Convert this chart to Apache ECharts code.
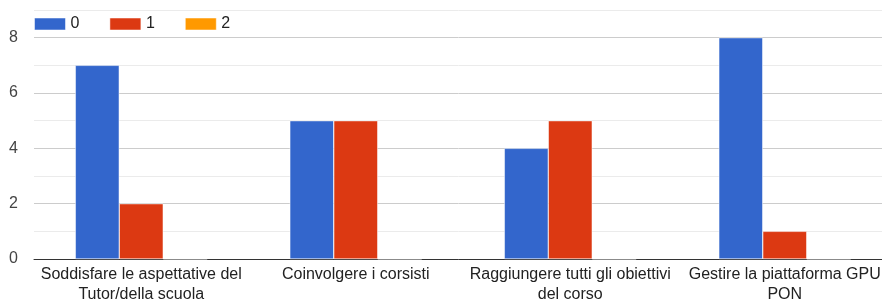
<!DOCTYPE html>
<html>
<head>
<meta charset="utf-8">
<script src="https://cdn.jsdelivr.net/npm/echarts@6/dist/echarts.min.js"></script>
<style>
  html, body { margin: 0; padding: 0; background: #fff; }
  #main { width: 882px; height: 303px; }
</style>
</head>
<body>
<div id="main"></div>
<script>
// categorie e valori
const categories = [
  'Soddisfare le aspettative del\nTutor/della scuola',
  'Coinvolgere i corsisti',
  'Raggiungere tutti gli obiettivi\ndel corso',
  'Gestire la piattaforma GPU\nPON'
]
const seriesNames = ['0', '1', '2']
const values0 = [7, 5, 4, 8]
const values1 = [2, 5, 5, 1]
const values2 = [0, 0, 0, 0]
const colors = ['#3366cc', '#dc3912', '#ff9900']

const myChart = echarts.init(document.getElementById('main'))

const allValues = [values0, values1, values2]

const option = {
  animation: false,
  textStyle: { fontFamily: '"Liberation Sans", Arial, sans-serif' },
  color: colors,
  legend: {
    left: 29,
    top: 11,
    itemWidth: 31,
    itemHeight: 12,
    itemGap: 30,
    itemStyle: { borderColor: 'rgba(255,255,255,0.5)', borderWidth: 1 },
    icon: 'rect',
    textStyle: { fontSize: 16, color: '#222' },
    data: seriesNames
  },
  // il grafico originale esce un po' oltre il bordo destro
  grid: { left: 34, width: 858, top: 10, bottom: 44, outerBoundsMode: 'none' },
  xAxis: {
    type: 'category',
    data: categories,
    axisTick: { show: false },
    axisLine: { lineStyle: { color: '#333', width: 1 } },
    axisLabel: { fontSize: 16, color: '#222', lineHeight: 20, margin: 6, interval: 0 }
  },
  yAxis: {
    type: 'value',
    min: 0,
    max: 9,
    interval: 1,
    axisLabel: {
      fontSize: 16,
      color: '#444',
      margin: 16,
      formatter: v => (v % 2 === 0 ? String(v) : '')
    },
    splitLine: { lineStyle: { color: ['#cccccc', '#ebebeb'] } }
  },
  series: allValues.map((vals, i) => ({
    name: seriesNames[i],
    type: 'bar',
    data: vals,
    barGap: '0%',
    barCategoryGap: '38.5%',
    itemStyle: { borderColor: '#fff', borderWidth: 0.5 }
  }))
}

myChart.setOption(option)
</script>
</body>
</html>
